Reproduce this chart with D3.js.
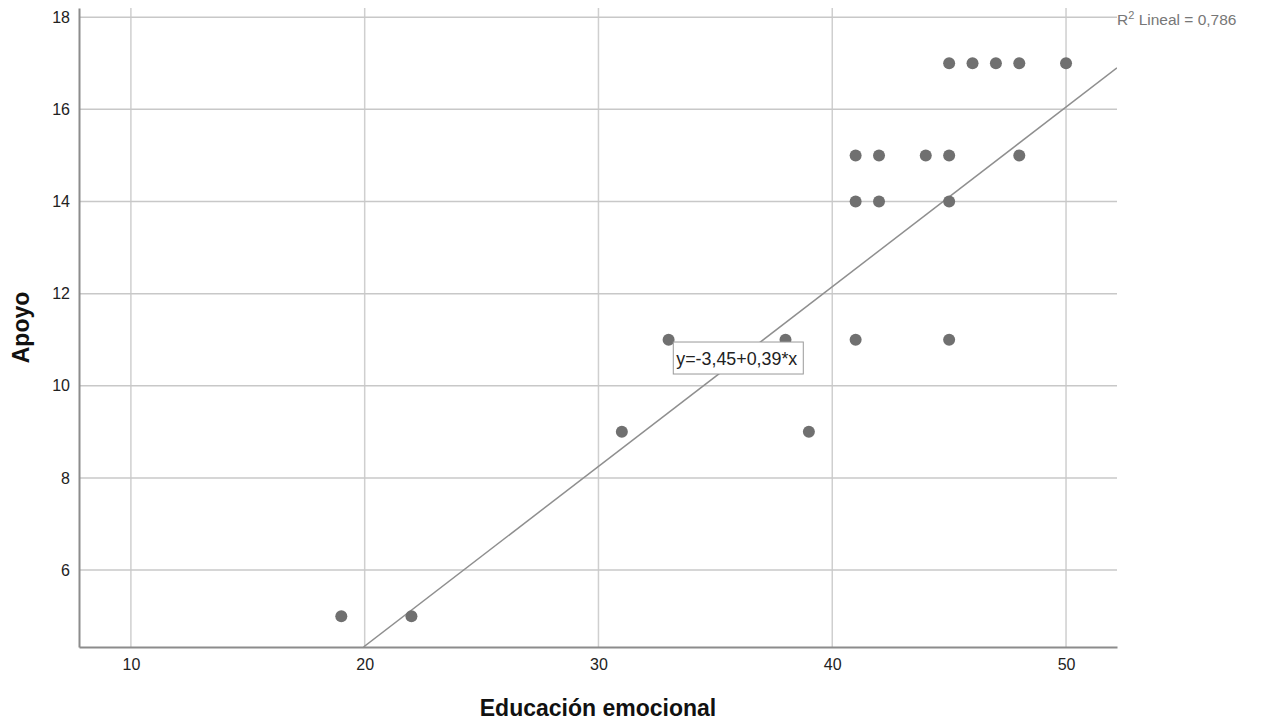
<!DOCTYPE html>
<html>
<head>
<meta charset="utf-8">
<script src="https://cdn.jsdelivr.net/npm/d3@7"></script>
<style>
body { margin: 0; background: #fff; }
text { font-family: "Liberation Sans", Arial, sans-serif; }
</style>
</head>
<body>
<svg></svg>
<script>
const size = { w: 1262, h: 727 };
const margin = { t: 8, r: 145, b: 80, l: 79 };

// Educación emocional (x) vs Apoyo (y)
const eduValues = [19, 22, 31, 33, 38, 39, 41, 41, 41, 42, 42, 44, 45, 45, 45, 45, 46, 47, 48, 48, 50];
const apoyoValues = [5, 5, 9, 11, 11, 9, 11, 14, 15, 14, 15, 15, 15, 14, 11, 17, 17, 17, 17, 15, 17];
const xTicks = [10, 20, 30, 40, 50];
const yTicks = [6, 8, 10, 12, 14, 16, 18];
const fit = { a: -3.45, b: 0.39, r2: "0,786" };

const svg = d3.select("svg").attr("width", size.w).attr("height", size.h);

const x = d3.scaleLinear().domain([7.78, 52.18]).range([margin.l, size.w - margin.r]);
const y = d3.scaleLinear().domain([4.33, 18.2]).range([size.h - margin.b, margin.t]);

// gridlines
let grid = svg.append("g");
grid.selectAll("line.v")
	.data(xTicks)
	.enter()
	.append("line")
	.attr("x1", d => x(d)).attr("x2", d => x(d))
	.attr("y1", y.range()[0]).attr("y2", y.range()[1])
	.attr("stroke", "#cfcfcf").attr("stroke-width", 1.5);
grid.selectAll("line.h")
	.data(yTicks)
	.enter()
	.append("line")
	.attr("y1", d => y(d)).attr("y2", d => y(d))
	.attr("x1", x.range()[0]).attr("x2", x.range()[1])
	.attr("stroke", "#c8c8c8").attr("stroke-width", 1.5);

// axes
const xAxis = d3.axisBottom(x).tickValues(xTicks).tickSize(0).tickPadding(12);
const yAxis = d3.axisLeft(y).tickValues(yTicks).tickSize(0).tickPadding(9);

let xg = svg.append("g")
	.attr("transform", `translate(0,${size.h - margin.b})`)
	.call(xAxis);
let yg = svg.append("g")
	.attr("transform", `translate(${margin.l},0)`)
	.call(yAxis);
[xg, yg].forEach(g => {
	g.select(".domain").attr("stroke", "#8c8c8c").attr("stroke-width", 2);
	g.selectAll("text").attr("font-size", 16).attr("fill", "#222")
		.attr("font-family", "'Liberation Sans', Arial, sans-serif");
});

// fit line, clipped to plot area
svg.append("clipPath").attr("id", "plot")
	.append("rect")
	.attr("x", x.range()[0]).attr("y", y.range()[1])
	.attr("width", x.range()[1] - x.range()[0])
	.attr("height", y.range()[0] - y.range()[1]);

const x0 = (y.domain()[0] - fit.a) / fit.b;
const x1 = x.domain()[1];
svg.append("line")
	.attr("clip-path", "url(#plot)")
	.attr("x1", x(x0)).attr("y1", y(fit.a + fit.b * x0))
	.attr("x2", x(x1)).attr("y2", y(fit.a + fit.b * x1))
	.attr("stroke", "#8f8f8f").attr("stroke-width", 1.5);

// points
svg.append("g")
	.selectAll("circle")
	.data(eduValues.map((v, i) => [v, apoyoValues[i]]))
	.enter()
	.append("circle")
	.attr("cx", d => x(d[0]))
	.attr("cy", d => y(d[1]))
	.attr("r", 6)
	.attr("fill", "#707070");

// equation label
let eq = svg.append("g").attr("transform", `translate(${x(33.2)},${y(10.95)})`);
eq.append("rect")
	.attr("width", 130).attr("height", 32)
	.attr("fill", "#fff").attr("stroke", "#999").attr("stroke-width", 1);
eq.append("text")
	.attr("x", 3).attr("y", 23)
	.attr("font-size", 17.5).attr("fill", "#222")
	.attr("textLength", 121).attr("lengthAdjust", "spacingAndGlyphs")
	.text("y=-3,45+0,39*x");

// R2 label
let r2 = svg.append("text")
	.attr("x", x.range()[1]).attr("y", 25)
	.attr("font-size", 15.5).attr("fill", "#777");
r2.append("tspan").text("R");
r2.append("tspan").attr("dy", -6).attr("font-size", 11).text("2");
r2.append("tspan").attr("dy", 6).text(" Lineal = " + fit.r2);

// axis titles
svg.append("text")
	.attr("x", (x.range()[0] + x.range()[1]) / 2)
	.attr("y", 716)
	.attr("text-anchor", "middle")
	.attr("font-size", 23).attr("font-weight", "bold").attr("fill", "#111")
	.text("Educación emocional");
svg.append("text")
	.attr("transform", `translate(29,${(y.range()[0] + y.range()[1]) / 2}) rotate(-90)`)
	.attr("text-anchor", "middle")
	.attr("font-size", 23).attr("font-weight", "bold").attr("fill", "#111")
	.text("Apoyo");
</script>
</body>
</html>
